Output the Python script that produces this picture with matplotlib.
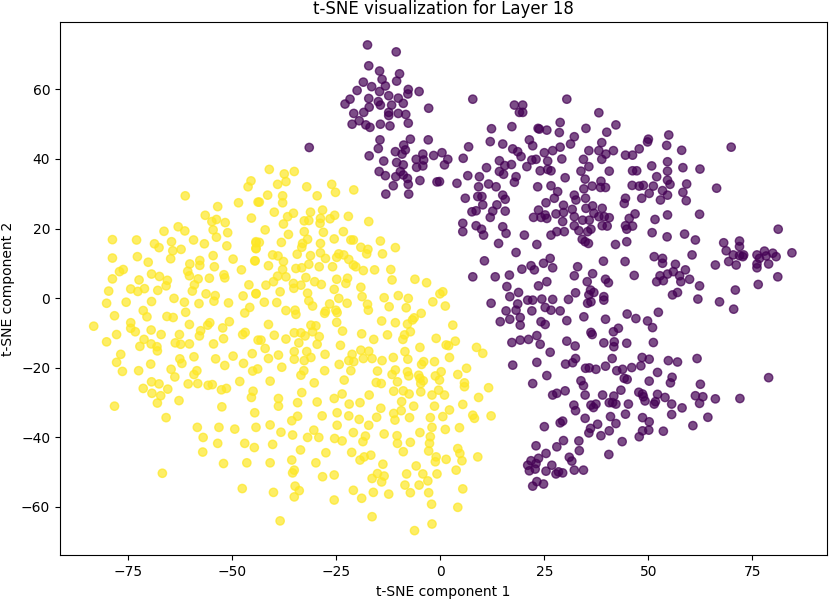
import numpy as np
import matplotlib
matplotlib.use("Agg")
import matplotlib.pyplot as plt

# t-SNE embedding, values
yellow_pts = np.array([
    # left part
    (-45.5,33.7),(-46.2,32.0),(-61.3,29.4),(-48.5,27.4),(-43.8,27.6),(-53.5,26.3),(-56.5,23.8),(-45.4,23.0),
    (-53.8,22.6),(-54.9,22.0),(-51.7,21.7),(-54.6,19.6),(-63.0,20.5),(-61.4,19.3),(-66.4,19.2),(-51.1,18.8),
    (-53.8,17.5),(-78.8,16.8),(-73.0,16.7),(-59.3,16.7),(-64.6,16.2),(-68.7,15.6),(-56.7,15.6),(-44.3,15.9),
    (-67.6,14.5),(-51.3,15.0),(-44.3,14.3),(-62.3,14.0),(-64.3,13.6),(-78.8,11.5),(-72.8,11.9),(-64.8,11.3),
    (-54.6,12.2),(-49.8,11.2),(-44.6,10.7),(-70.2,10.3),(-57.8,10.8),(-60.2,9.8),(-57.8,9.4),(-54.3,9.0),
    (-47.8,8.1),(-76.2,8.2),(-77.1,7.6),(-69.4,6.9),(-67.5,6.2),(-60.7,7.7),(-60.3,6.4),(-58.2,5.5),
    (-55.5,5.7),(-52.0,6.7),(-51.8,5.8),(-78.8,5.5),(-72.4,5.2),(-65.6,5.1),(-65.9,3.5),(-59.1,3.8),
    (-46.0,3.8),(-79.7,2.0),(-74.4,2.6),(-72.7,1.9),(-71.1,2.7),(-67.9,2.2),(-59.6,2.0),(-56.3,1.2),
    (-54.1,0.7),(-44.3,1.3),(-47.4,0.6),(-64.0,-0.1),(-54.4,-0.9),(-80.2,-1.5),(-75.5,-1.2),(-69.4,-1.0),
    (-61.5,-1.2),(-58.0,-1.6),(-50.9,-1.4),(-45.8,-2.7),(-71.4,-3.6),(-61.2,-4.1),(-47.0,-4.3),(-78.3,-5.1),
    (-70.5,-5.4),(-65.7,-5.3),(-64.2,-5.6),
    (-83.3,-8.1),(-74.4,-7.1),(-74.4,-8.7),(-73.3,-9.7),(-77.8,-10.5),(-80.2,-12.6),(-69.5,-9.2),(-67.1,-10.5),
    (-71.2,-11.9),(-72.2,-13.9),(-69.5,-13.2),(-68.1,-14.0),(-68.0,-15.2),(-62.7,-10.5),(-63.7,-12.9),(-62.4,-13.3),
    (-60.3,-13.2),(-60.3,-7.6),(-57.6,-9.4),(-57.9,-10.9),(-55.9,-7.8),(-55.4,-7.1),(-52.3,-8.6),(-50.7,-6.8),
    (-52.1,-11.7),(-54.5,-13.2),(-47.5,-10.5),(-46.9,-9.9),(-43.8,-12.1),(-76.8,-16.2),(-77.8,-18.5),(-76.4,-21.1),
    (-72.5,-20.9),(-69.6,-19.0),(-64.7,-20.5),(-62.6,-17.5),(-62.1,-18.8),(-59.2,-16.9),(-54.0,-17.5),(-51.8,-19.4),
    (-49.8,-16.7),(-47.3,-18.8),(-45.2,-16.0),(-45.1,-21.0),(-43.9,-20.4),(-58.5,-20.9),(-59.2,-22.0),(-63.8,-22.7),
    (-69.4,-24.1),(-67.6,-24.7),(-60.6,-24.7),(-58.3,-24.6),(-55.8,-25.1),(-54.8,-24.9),(-48.2,-24.0),(-71.4,-26.0),
    (-65.5,-26.2),(-69.3,-27.4),(-67.2,-28.1),(-68.0,-30.2),(-62.8,-29.5),(-52.6,-26.4),(-51.4,-26.0),(-45.0,-26.8),
    (-45.4,-28.6),(-78.3,-31.1),(-52.5,-31.3),(-65.9,-34.4),(-44.6,-33.0),(-58.4,-37.2),(-53.2,-37.2),(-49.4,-37.7),
    (-44.3,-37.2),(-57.0,-40.1),(-53.5,-41.8),(-47.0,-41.8),(-44.7,-43.0),(-57.1,-44.3),(-52.1,-47.6),(-46.5,-47.4),
    (-66.8,-50.4),(-47.6,-54.8),
    # upper middle
    (-41.1,37.0),(-37.5,35.7),(-35.1,36.4),(-37.1,33.5),(-39.1,32.7),(-32.1,32.0),(-26.1,32.7),(-25.2,30.4),
    (-20.8,31.1),(-29.6,29.4),(-41.5,29.6),(-37.9,29.4),(-43.5,27.6),(-37.9,27.4),(-39.9,24.7),(-35.3,24.4),
    (-31.2,24.7),(-28.3,25.3),(-25.4,23.8),(-22.1,23.5),(-36.7,23.4),(-26.5,22.8),(-32.7,22.2),(-31.6,22.3),
    (-28.8,22.9),(-28.9,21.5),(-17.2,22.0),(-37.7,21.3),(-42.1,19.6),(-28.1,18.9),(-32.7,19.1),(-36.5,18.3),
    (-23.3,19.1),(-31.9,16.9),(-33.1,15.7),(-25.5,17.0),(-21.5,16.7),(-20.9,16.7),(-14.4,16.4),(-44.3,16.2),
    (-43.5,16.0),(-44.3,14.2),(-38.2,16.0),(-28.8,15.7),(-33.3,14.6),(-19.1,14.6),(-17.4,14.0),(-10.8,14.5),
    (-17.7,12.7),(-13.9,12.7),(-34.4,12.6),(-28.8,13.0),(-40.3,12.4),(-39.0,12.1),(-31.2,12.2),(-27.6,11.4),
    (-24.9,11.7),(-24.4,12.7),(-23.2,12.4),(-22.0,11.1),(-44.5,10.7),(-37.7,10.5),(-41.3,9.3),(-31.6,9.7),
    (-25.9,9.0),(-29.1,9.0),(-20.9,9.5),(-20.3,9.0),(-34.7,8.5),(-33.3,8.7),(-37.9,8.2),(-18.5,7.9),
    (-15.8,8.1),(-11.9,8.2),(-37.1,6.1),(-39.1,6.3),(-32.3,5.9),(-24.9,5.4),(-22.3,5.7),(-22.7,4.2),
    (-11.6,5.2),(-6.1,5.4),(-3.3,4.4),(-41.9,3.7),(-40.1,4.7),(-35.3,4.2),(-33.5,3.7),(-30.2,4.7),
    (-28.6,3.9),(-35.2,2.8),(-25.5,2.5),(-19.1,3.1),(-38.5,1.8),(-44.3,1.2),(-31.9,1.4),(-24.4,-0.1),
    (-18.8,0.4),(-13.5,0.1),(-10.1,0.7),(-7.7,-0.1),(-0.1,1.2),(0.6,1.8),(-31.6,-0.8),(-42.3,-1.2),
    (-39.3,-1.3),(-30.7,-2.3),(-26.6,-1.7),(-22.4,-1.5),(-17.5,-1.8),(-12.3,-2.5),(-8.2,-2.8),(-1.8,-1.1),
    (1.2,-2.3),(-37.1,-3.6),(-34.9,-3.5),(-34.7,-4.7),(-27.6,-3.8),(-27.8,-4.4),(-25.1,-3.5),(-24.8,-4.2),
    (-17.3,-3.5),(-4.6,-4.4),(-6.3,-5.7),
    # lower middle
    (-41.3,-7.6),(-39.9,-10.7),(-43.1,-12.1),(-42.1,-14.5),(-37.1,-11.8),(-35.1,-10.0),(-33.5,-10.0),(-32.5,-10.9),
    (-31.1,-7.8),(-29.9,-8.0),(-30.7,-9.7),(-29.1,-11.1),(-34.0,-12.9),(-29.6,-13.3),(-24.9,-7.0),(-23.5,-9.5),
    (-18.9,-10.3),(-16.0,-11.9),(-14.1,-6.6),(-12.7,-10.6),(-10.8,-7.1),(-7.9,-7.5),(-7.2,-9.7),(-8.6,-10.6),
    (-9.0,-11.9),(-6.7,-6.3),(-1.0,-11.6),(1.4,-13.5),(-24.0,-13.6),(-4.9,-14.2),(-35.1,-15.4),(-35.1,-17.6),
    (-32.1,-15.4),(-31.1,-17.1),(-32.7,-18.0),(-27.7,-16.2),(-38.9,-16.4),(-41.3,-17.4),(-38.1,-19.9),(-32.8,-20.9),
    (-33.5,-22.2),(-27.8,-20.9),(-24.3,-19.1),(-22.0,-18.0),(-20.8,-18.3),(-21.2,-16.2),(-19.1,-15.0),(-17.2,-15.3),
    (-18.5,-17.4),(-16.4,-17.4),(-21.5,-20.9),(-14.0,-18.0),(-11.3,-17.1),(-8.5,-15.4),(-7.8,-17.6),(-4.0,-18.3),
    (-4.5,-19.1),(-1.4,-18.3),(-15.1,-21.0),(-10.8,-20.7),(-11.6,-22.0),(-7.9,-21.2),(-7.6,-22.4),(-5.2,-22.2),
    (-4.9,-23.1),(-4.1,-23.8),(-1.2,-22.4),(0.2,-21.2),(-0.2,-23.6),(-40.9,-23.9),(-30.3,-24.4),(-23.1,-23.6),
    (-15.4,-24.3),(-14.2,-24.6),(-10.3,-24.1),(-4.7,-24.6),(-33.3,-27.2),(-23.6,-27.6),(-25.5,-28.9),(-38.9,-28.9),
    (-38.9,-31.1),(-34.3,-30.1),(-29.6,-29.9),(-21.9,-30.5),(-19.3,-30.1),(-17.1,-27.9),(-11.2,-26.8),(-8.9,-26.7),
    (-7.5,-27.6),(-4.7,-27.0),(-2.0,-27.9),(-0.4,-26.5),(1.0,-27.9),(-9.3,-29.8),(-6.4,-31.1),(-1.4,-31.1),
    (-14.3,-31.7),(-24.8,-33.0),(-22.0,-33.9),(-19.5,-34.9),(-15.3,-34.3),(-11.2,-33.2),(-9.4,-32.4),(-10.9,-35.1),
    (-7.4,-34.4),(-2.4,-34.4),(0.6,-34.1),(-34.3,-34.0),(-35.7,-35.3),(-28.4,-33.9),(-40.9,-36.5),(-38.3,-38.6),
    (-35.5,-39.4),(-31.9,-40.1),(-30.4,-38.0),(-29.2,-40.1),(-24.8,-36.6),(-20.9,-38.7),(-17.2,-36.6),(-18.0,-39.7),
    (-18.6,-41.3),(-23.6,-41.1),(-25.4,-40.4),(-21.3,-44.4),(-13.5,-39.1),(-10.4,-39.6),(-10.3,-41.8),(-8.9,-44.2),
    (-7.2,-41.5),(-4.9,-38.7),(-2.0,-37.2),(-2.4,-39.9),(1.2,-37.8),(-2.6,-41.8),(-2.8,-44.0),(-1.0,-45.7),
    (-1.2,-47.1),(1.4,-46.4),(-40.3,-42.1),(-33.6,-43.7),(-27.5,-44.5),(-40.9,-47.4),(-35.7,-46.6),(-29.9,-47.4),
    (-19.3,-46.6),(-18.3,-45.7),(-16.7,-45.2),(-13.8,-47.8),(-5.8,-48.3),(-35.1,-49.5),(-35.5,-50.3),(-28.3,-51.4),
    (-25.5,-50.9),(-16.4,-51.9),(-15.1,-50.5),(-13.5,-51.2),(-14.1,-52.9),(-8.1,-50.6),(-4.2,-50.6),(-0.8,-50.6),
    (-3.0,-52.6),(-5.1,-53.8),(-8.5,-53.8),(-34.9,-54.1),(-33.9,-55.4),(-35.1,-57.2),(-40.1,-55.9),(-25.5,-58.1),
    (-20.9,-55.3),(-18.9,-57.6),(-16.1,-55.9),(-12.4,-56.4),(-7.2,-56.0),(-2.8,-56.0),(-2.1,-59.3),(-38.5,-64.1),
    (-16.4,-62.9),(-6.2,-66.9),(-2.0,-65.0),
    # right edge
    (3.0,-7.8),(3.6,-12.4),(2.0,-13.7),(8.7,-14.2),(10.2,-15.9),(2.2,-17.1),(6.3,-20.2),(4.2,-22.0),
    (5.8,-24.4),(5.8,-25.5),(11.6,-25.8),(9.2,-28.6),
    (5.4,-30.6),(2.2,-32.2),(7.8,-33.7),(8.2,-34.6),(12.2,-33.9),(4.6,-37.3),(4.2,-43.3),(4.7,-44.7),
    (5.2,-46.8),(9.0,-45.7),(3.8,-49.5),(5.4,-54.9),(4.2,-60.2),
])

purple_pts = np.array([
    # top cluster
    (-17.5,72.8),(-10.6,70.8),(-17.2,66.8),(-14.6,65.3),(-9.8,64.5),(-14.0,62.9),(-10.5,62.4),(-18.5,62.1),
    (-16.5,60.8),(-13.2,61.0),(-20.0,59.7),(-14.6,59.4),(-7.7,60.0),(-7.8,58.7),(-5.1,59.4),(-21.7,57.2),
    (-22.9,55.8),(-17.2,57.4),(-12.4,58.2),(-10.1,57.5),(-14.9,56.5),(-14.4,55.5),(-11.7,55.5),(-8.9,56.0),
    (-17.1,54.9),(-18.4,53.4),(-20.8,53.1),(-12.4,53.4),(-12.4,52.5),(-10.1,53.1),(-8.3,52.8),(-2.8,54.6),
    (-19.5,51.0),(-21.2,50.0),(-17.9,49.8),(-16.9,49.1),(-14.4,50.0),(-12.1,49.5),(-7.7,50.3),(-14.5,45.5),
    (-7.2,45.7),(-2.9,45.5),(-31.5,43.3),(-14.9,43.0),(-10.8,42.1),(-8.8,44.0),(-8.4,42.6),(-9.2,41.4),
    (-17.1,40.9),(-13.6,39.4),(-10.5,39.0),(-8.9,38.3),(-5.8,39.9),(-4.2,41.4),(-4.0,39.7),(-1.6,41.0),
    (-5.7,37.6),(-4.2,38.0),(-14.7,36.4),(-13.2,35.2),(-10.7,34.9),(-9.6,36.4),(-8.9,35.4),(-7.9,34.4),
    (-4.9,33.8),(-0.8,33.4),(-11.3,32.3),(-7.7,32.7),(-13.1,29.9),(-7.6,29.9),
    # upper middle
    (7.8,57.2),(30.4,57.2),(17.8,55.5),(19.8,55.5),(19.0,53.4),(19.8,53.4),(38.1,53.3),(28.8,50.5),
    (42.2,49.8),(17.2,49.3),(23.5,48.8),(23.8,48.6),(25.6,48.3),(12.3,48.7),(35.0,48.8),(28.6,47.6),
    (40.0,47.7),(32.2,46.4),(12.0,45.0),(15.0,44.3),(21.4,45.5),(22.2,43.8),(31.3,44.3),(38.8,44.7),
    (6.8,43.5),(0.4,41.8),(1.8,39.9),(1.0,38.3),(5.5,40.2),(17.4,42.9),(18.6,42.1),(19.4,40.7),
    (14.2,39.5),(17.1,38.4),(15.5,38.1),(20.8,37.8),(22.0,39.7),(23.0,39.9),(25.0,41.8),(27.0,42.4),
    (28.8,43.4),(25.8,39.4),(29.2,40.0),(35.7,42.4),(38.1,42.4),(39.8,41.4),(41.6,42.4),(38.8,39.9),
    (34.4,39.9),(35.7,37.8),(44.5,41.1),(-0.2,33.5),(4.0,33.0),(6.6,35.2),(11.1,37.5),(14.2,36.4),
    (15.2,35.6),(18.2,34.9),(17.8,33.3),(9.4,34.9),(24.0,36.6),(25.8,37.0),(26.6,36.6),(30.0,34.6),
    (33.8,36.5),(34.8,34.2),(40.6,36.5),(9.2,32.0),(11.6,32.8),(13.4,32.0),(23.4,32.0),(26.6,32.3),
    (36.5,32.2),(38.6,33.6),(38.5,31.8),(39.7,31.8),(34.5,31.4),(28.2,30.6),(6.0,28.7),(9.0,29.2),
    (10.0,29.2),(15.0,29.6),(15.6,28.4),(10.2,26.8),(13.6,26.8),(25.4,27.4),(27.4,28.7),(32.2,29.6),
    (32.6,28.2),(34.9,28.7),(36.6,26.5),(35.0,25.8),(38.9,25.8),(44.2,27.2),(44.5,28.7),(7.6,24.8),
    (8.6,25.1),(12.6,25.0),(15.6,25.0),(12.0,23.2),(23.6,25.3),(22.4,23.2),(24.2,23.2),(25.2,23.9),
    (25.6,22.9),(27.8,24.2),(29.6,26.7),(29.6,24.6),(31.7,25.5),(29.4,22.0),(32.2,23.4),(32.2,20.8),
    (35.8,22.4),(36.9,24.4),(38.1,23.4),(39.4,23.4),(40.6,23.1),(38.9,20.8),(40.1,20.7),(34.2,22.4),
    (44.5,20.8),(5.4,21.5),(5.4,19.1),(8.6,20.8),(9.9,19.8),(10.4,18.1),(15.0,20.5),(15.8,18.6),
    (20.2,18.1),(26.6,18.1),(28.0,19.1),(29.8,19.1),(33.3,19.4),(35.4,19.1),(36.2,19.8),(44.8,19.8),
    (34.1,16.9),
    # upper right
    (54.9,46.9),(50.0,45.7),(49.8,44.9),(54.4,43.9),(47.8,42.9),(58.0,42.5),(69.9,43.4),(46.2,41.1),
    (54.6,39.2),(50.8,38.0),(58.3,37.5),(62.4,37.1),(46.2,36.6),(47.2,36.6),(54.6,36.5),(52.0,34.9),
    (54.6,33.9),(55.2,32.7),(59.2,32.8),(46.1,32.4),(47.8,32.2),(48.8,32.4),(51.2,32.2),(66.4,31.6),
    (53.4,30.9),(50.2,30.1),(54.6,29.6),(58.3,30.4),(48.4,28.7),(52.9,28.2),(59.1,28.0),(46.8,24.2),
    (51.6,22.6),(54.6,23.9),(62.3,24.1),(46.2,20.7),(50.9,18.8),(54.5,17.6),(58.7,18.4),(61.3,16.7),
    (81.2,19.8),(45.4,22.9),
    # middle
    (14.0,15.7),(23.2,15.4),(34.8,16.2),(35.6,15.7),(42.1,15.4),(44.8,16.2),(18.2,13.1),(10.6,10.7),
    (26.4,11.4),(24.8,10.0),(27.0,8.7),(21.8,9.3),(22.6,8.1),(19.6,8.3),(39.2,10.6),(44.4,10.5),
    (33.0,9.0),(7.8,6.1),(13.2,6.1),(16.6,6.6),(32.2,6.4),(36.6,7.0),(39.7,5.4),(40.4,4.4),
    (35.3,4.7),(25.6,4.7),(23.6,3.5),(16.0,3.3),(18.8,1.6),(16.7,0.4),(32.5,1.5),(36.1,2.3),
    (36.9,1.6),(35.7,0.9),(39.3,0.4),(39.3,-0.6),(12.2,-1.5),(21.0,-0.6),(22.2,-0.6),(24.4,-0.3),
    (27.0,-0.4),(30.8,-0.4),(35.4,-1.5),(36.2,-1.1),(18.6,-1.7),(25.2,-2.7),(26.6,-3.5),(28.8,-3.7),
    (15.8,-3.7),(18.2,-3.5),(22.0,-3.7),(19.2,-5.6),(16.7,-6.1),(14.4,-6.8),(19.2,-7.8),(24.2,-6.8),
    (25.2,-7.6),(30.4,-6.5),(34.5,-5.4),(39.7,-6.1),(44.9,-4.6),(36.2,-9.9),(36.5,-10.5),(41.6,-9.7),
    (42.8,-8.7),(23.2,-10.8),(17.2,-12.8),(19.2,-12.1),(21.2,-11.9),(24.0,-13.3),(30.4,-12.4),(32.4,-13.8),
    (39.3,-12.9),(41.8,-12.6),(41.7,-14.0),(44.8,-13.0),(26.4,-15.6),(17.4,-19.3),(23.2,-18.5),(30.1,-19.0),
    (31.8,-18.6),(32.5,-17.4),(34.9,-20.2),(35.8,-20.1),(37.4,-20.5),(39.7,-19.6),(41.3,-17.4),(42.4,-20.9),
    (43.8,-20.5),(25.6,-22.3),(22.2,-24.6),(33.8,-23.8),(34.4,-25.2),(44.2,-23.1),(44.9,-23.4),(27.0,-27.9),
    (28.0,-27.4),(30.0,-26.7),(34.8,-27.9),(39.0,-27.9),(41.7,-28.2),(43.4,-26.5),
    # lower right
    (68.1,15.9),(71.9,16.4),(71.9,14.8),(68.7,13.6),(70.4,12.4),(71.9,12.2),(72.7,11.9),(72.9,12.4),
    (69.3,10.5),(71.1,9.5),(76.1,12.4),(77.9,13.5),(78.3,12.1),(79.9,12.9),(80.7,11.9),(84.5,13.0),
    (76.1,9.8),(76.1,8.7),(78.9,9.8),(76.7,11.4),(66.1,9.5),(51.4,11.9),(53.4,11.4),(53.4,10.0),
    (60.5,12.4),(46.6,6.5),(56.5,9.7),(58.9,8.1),(56.0,7.6),(52.8,6.4),(54.6,6.9),(57.5,6.4),
    (52.0,4.7),(53.6,5.0),(57.8,4.7),(59.9,5.4),(62.3,3.5),(57.0,1.6),(55.8,0.9),(61.9,-0.3),
    (67.1,-1.1),(70.9,2.3),(76.4,3.9),(81.1,6.1),(70.5,-3.2),(52.4,-4.1),(47.0,-5.9),(49.8,-6.6),
    (51.0,-8.5),(51.2,-12.8),(48.5,-17.1),(50.2,-17.6),(48.2,-19.5),(46.0,-20.0),(54.8,-18.0),(57.0,-18.4),
    (61.7,-17.4),(52.2,-21.4),(55.7,-22.8),(55.3,-24.4),(50.2,-23.9),(62.5,-24.8),(78.9,-22.9),(47.7,-27.1),
    (48.6,-27.6),(48.8,-28.4),(49.2,-29.6),(52.2,-27.7),(54.0,-28.6),(51.4,-30.5),(51.7,-29.8),(55.6,-30.5),
    (55.6,-33.5),(58.1,-31.6),(61.3,-28.1),(63.1,-28.4),(62.3,-30.3),(66.1,-29.0),(72.0,-28.9),(64.3,-34.3),
    (60.7,-36.7),(48.6,-34.4),(50.2,-35.6),(50.1,-38.0),(48.6,-38.2),(47.8,-39.9),(53.6,-38.3),
    # bottom
    (32.1,-30.8),(32.5,-32.4),(36.2,-30.8),(36.8,-31.5),(37.4,-30.5),(40.6,-30.1),(42.2,-30.5),(41.4,-30.1),
    (45.2,-30.5),(44.5,-33.4),(40.9,-34.1),(42.2,-36.1),(34.8,-34.6),(37.8,-36.3),(36.1,-37.5),(35.7,-38.8),
    (38.6,-39.6),(40.6,-38.2),(28.8,-35.9),(29.4,-35.4),(25.0,-37.0),(43.7,-41.3),(29.6,-41.0),(33.3,-41.1),
    (23.0,-42.5),(28.0,-42.8),(33.4,-43.9),(25.4,-44.7),(40.5,-45.0),(31.0,-45.8),(31.6,-46.9),(21.8,-46.8),
    (23.6,-46.1),(23.0,-47.6),(21.0,-48.1),(21.4,-49.7),(22.8,-49.2),(26.8,-48.1),(25.4,-49.8),(27.8,-50.6),
    (28.4,-50.0),(29.4,-50.3),(32.2,-49.5),(34.4,-49.5),(23.2,-52.8),(22.2,-54.1),(24.8,-53.5),
])

pts = np.vstack([purple_pts, yellow_pts])
labels = np.r_[np.zeros(len(purple_pts)), np.ones(len(yellow_pts))]

fig = plt.figure(figsize=(8.3, 5.99), dpi=100)
ax = fig.add_axes([60/830, 43.7/599, 767.3/830, 533.3/599])
ax.scatter(pts[:, 0], pts[:, 1], c=labels, cmap='viridis', alpha=0.7)
ax.set_xlim(-91.4, 93.0)
ax.set_ylim(-74.0, 79.4)
ax.set_title('t-SNE visualization for Layer 18')
ax.set_xlabel('t-SNE component 1')
ax.set_ylabel('t-SNE component 2')
fig.savefig('out.png', dpi=100)
